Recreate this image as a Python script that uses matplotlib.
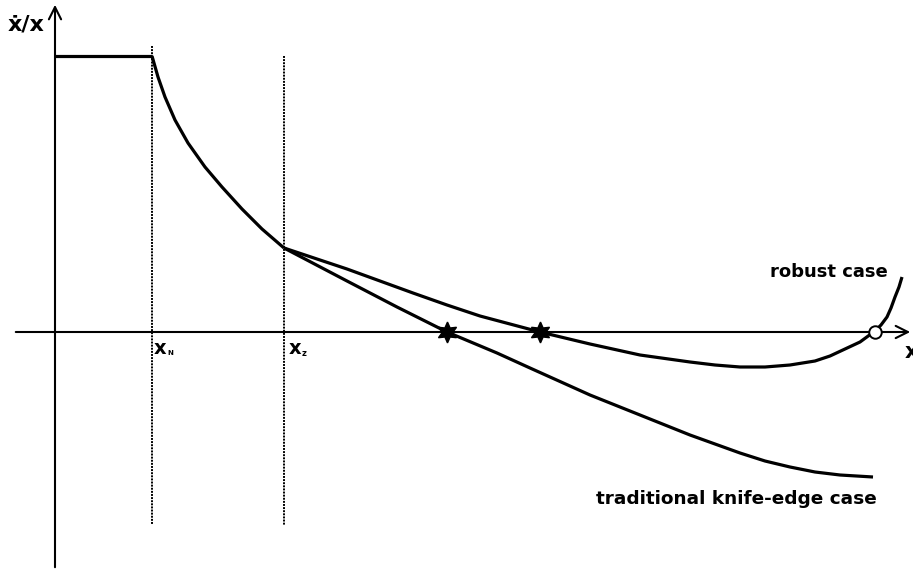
import matplotlib.pyplot as plt

# growth-rate schedule, sketch units (origin where the axes cross)
flat_x = [0, 97]
flat_y = [276, 276]

decay_x = [97, 103, 110, 120, 133, 150, 167, 187, 207, 229]
decay_y = [276, 255, 235, 212, 189, 165, 145, 123, 103, 84]

robust_x = [229, 292, 358, 392, 425, 485, 535, 585, 635, 660, 685, 710, 735,
            760, 775, 790, 805, 820, 826, 832, 836, 840, 844, 847]
robust_y = [84, 63, 39, 27, 16, 0, -12, -23, -30, -33, -35, -35, -33,
            -29, -24, -17, -10, 1, 7, 15, 24, 35, 45, 55]

trad_x = [229, 292, 342, 392, 442, 475, 535, 585, 635, 685, 710, 735, 760,
          785, 818]
trad_y = [84, 51, 25, 0, -21, -36, -63, -83, -103, -121, -129, -135, -140,
          -143, -145]

x_n = 97
x_z = 229
stars_x = [392, 485]
steady_x = [820]

plt.rcParams['font.family'] = 'DejaVu Sans'

fig = plt.figure(figsize=(9.13, 5.73), dpi=100)
ax = fig.add_axes([0, 0, 1, 1])
ax.set_xlim(-55, 858)
ax.set_ylim(-241, 332)
ax.axis('off')

# axes with open arrow heads
ax.annotate('', xy=(858, 0), xytext=(-42, 0),
            arrowprops=dict(arrowstyle='->', lw=1.5, color='black', mutation_scale=22))
ax.annotate('', xy=(0, 330), xytext=(0, -238),
            arrowprops=dict(arrowstyle='->', lw=1.5, color='black', mutation_scale=22))

# thresholds
ax.plot([x_n, x_n], [286, -193], color='black', lw=1.4, ls=(0, (1, 0.6)))
ax.plot([x_z, x_z], [276, -193], color='black', lw=1.4, ls=(0, (1, 0.6)))

# curves
kw = dict(color='black', lw=2.3, solid_capstyle='butt', solid_joinstyle='round')
ax.plot(flat_x, flat_y, **kw)
ax.plot(decay_x, decay_y, **kw)
ax.plot(robust_x, robust_y, **kw)
ax.plot(trad_x, trad_y, **kw)

# steady states
ax.plot(stars_x, [0] * len(stars_x), ls='none', marker=(6, 1, 0), ms=15,
        color='black', zorder=5)
ax.plot(steady_x, [0], ls='none', marker='o', ms=9, mfc='white',
        mec='black', mew=1.4, zorder=5)

# labels
ax.text(-47, 308, 'ẋ/x', fontsize=16, fontweight='bold', va='center', ha='left')
ax.text(850, -20, 'x', fontsize=15, fontweight='bold', va='center', ha='left')
ax.text(x_n + 2, -16, 'x', fontsize=14, fontweight='bold', va='center', ha='left')
ax.text(x_n + 15, -21, 'N', fontsize=5, fontweight='bold', va='center', ha='left')
ax.text(x_z + 5, -16, 'x', fontsize=14, fontweight='bold', va='center', ha='left')
ax.text(x_z + 18, -21, 'z', fontsize=6, fontweight='bold', va='center', ha='left')
ax.text(715, 60, 'robust case', fontsize=13, fontweight='bold', va='center', ha='left')
ax.text(541, -167, 'traditional knife-edge case', fontsize=13.3, fontweight='bold',
        va='center', ha='left')

fig.savefig('out.png', dpi=100)
